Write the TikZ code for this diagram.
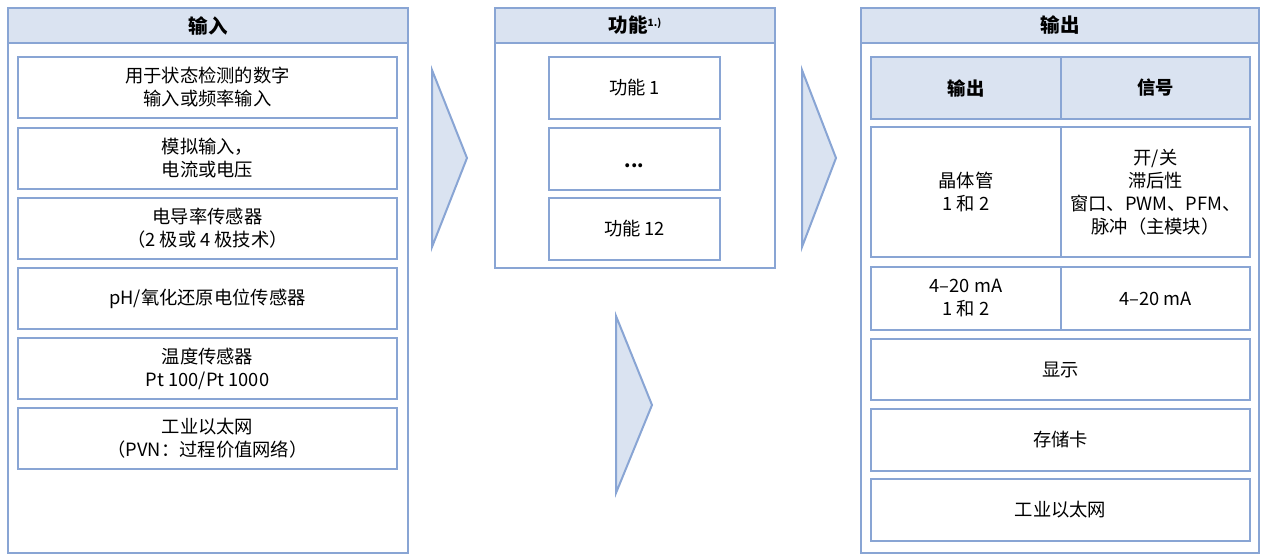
\documentclass[tikz,border=0pt]{standalone}
\usepackage{fontspec}
\setmainfont{Noto Sans CJK SC}
\begin{document}
\begin{tikzpicture}[x=1pt,y=-1pt,
  line join=miter,
  panel/.style={draw=bordc, line width=2pt, fill=white},
  headc/.style={draw=bordc, line width=2pt, fill=headf, font=\fontsize{19.5}{23}\selectfont\bfseries, inner sep=0pt},
  cell/.style={draw=bordc, line width=2.2pt, fill=white, align=center, inner sep=0pt, font=\fontsize{18.3}{23}\selectfont},
  hcell/.style={cell, fill=headf, font=\fontsize{18.3}{23}\selectfont\bfseries},
  tri/.style={draw=bordc, line width=2pt, fill=headf, line join=miter}
]
\definecolor{bordc}{RGB}{137,165,212}
\definecolor{headf}{RGB}{218,227,241}
\useasboundingbox (0,0) rectangle (1261,554);

% left panel
\node[panel, minimum width=400pt, minimum height=545pt] (inpanel) at (208,280.5) {};
\node[headc, minimum width=400pt, minimum height=35pt] (inhead) at (208,25.5) {输入};
\node[cell, minimum width=379pt, minimum height=61pt] (in1) at (207.5,87.5) {用于状态检测的数字\\输入或频率输入};
\node[cell, minimum width=379pt, minimum height=61pt] (in2) at (207.5,158.5) {模拟输入，\\电流或电压};
\node[cell, minimum width=379pt, minimum height=61pt] (in3) at (207.5,228.5) {电导率传感器\\（2 极或 4 极技术）};
\node[cell, minimum width=379pt, minimum height=61pt] (in4) at (207.5,298.5) {pH/氧化还原电位传感器};
\node[cell, minimum width=379pt, minimum height=61pt] (in5) at (207.5,368.5) {温度传感器\\Pt 100/Pt 1000};
\node[cell, minimum width=379pt, minimum height=61pt] (in6) at (207.5,438.5) {工业以太网\\（PVN：过程价值网络）};

% middle panel
\node[panel, minimum width=280pt, minimum height=260pt] (fnpanel) at (635,138) {};
\node[headc, minimum width=280pt, minimum height=35pt] (fnhead) at (635,25.5) {功能\raisebox{0.6ex}{\fontsize{10}{11}\selectfont\bfseries 1.)}};
\node[cell, minimum width=171pt, minimum height=62pt] (fn1) at (634.5,88) {功能 1};
\node[cell, minimum width=171pt, minimum height=62pt] (fn2) at (634.5,159) {\smash{\raisebox{-8pt}{\textbf{...}}}};
\node[cell, minimum width=171pt, minimum height=62pt] (fn3) at (634.5,229) {功能 12};

% right panel
\node[panel, minimum width=398pt, minimum height=545pt] (outpanel) at (1060,280.5) {};
\node[headc, minimum width=398pt, minimum height=35pt] (outhead) at (1060,25.5) {输出};
\node[hcell, minimum width=190pt, minimum height=62pt] (h1) at (966,88) {输出};
\node[hcell, minimum width=189pt, minimum height=62pt] (h2) at (1155.5,88) {信号};
\node[cell, minimum width=190pt, minimum height=130pt] (r1a) at (966,192) {晶体管\\1 和 2};
\node[cell, minimum width=189pt, minimum height=130pt] (r1b) at (1155.5,192) {开/关\\滞后性\\窗口、PWM、PFM、\\脉冲（主模块）};
\node[cell, minimum width=190pt, minimum height=63pt] (r2a) at (966,298.5) {4–20 mA\\1 和 2};
\node[cell, minimum width=189pt, minimum height=63pt] (r2b) at (1155.5,298.5) {4–20 mA};
\node[cell, minimum width=379pt, minimum height=61pt] (o1) at (1060.5,369.5) {显示};
\node[cell, minimum width=379pt, minimum height=62pt] (o2) at (1060.5,440) {存储卡};
\node[cell, minimum width=379pt, minimum height=62pt] (o3) at (1060.5,510) {工业以太网};

% arrows
\coordinate (a1t) at (432,70); \coordinate (a1p) at (467,158); \coordinate (a1b) at (432,247);
\draw[tri] (a1t) -- (a1p) -- (a1b) -- cycle;
\coordinate (a2t) at (802,70); \coordinate (a2p) at (836,158); \coordinate (a2b) at (802,247);
\draw[tri] (a2t) -- (a2p) -- (a2b) -- cycle;
\coordinate (a3t) at (616,316); \coordinate (a3p) at (652,405); \coordinate (a3b) at (616,493);
\draw[tri] (a3t) -- (a3p) -- (a3b) -- cycle;
\end{tikzpicture}
\end{document}
